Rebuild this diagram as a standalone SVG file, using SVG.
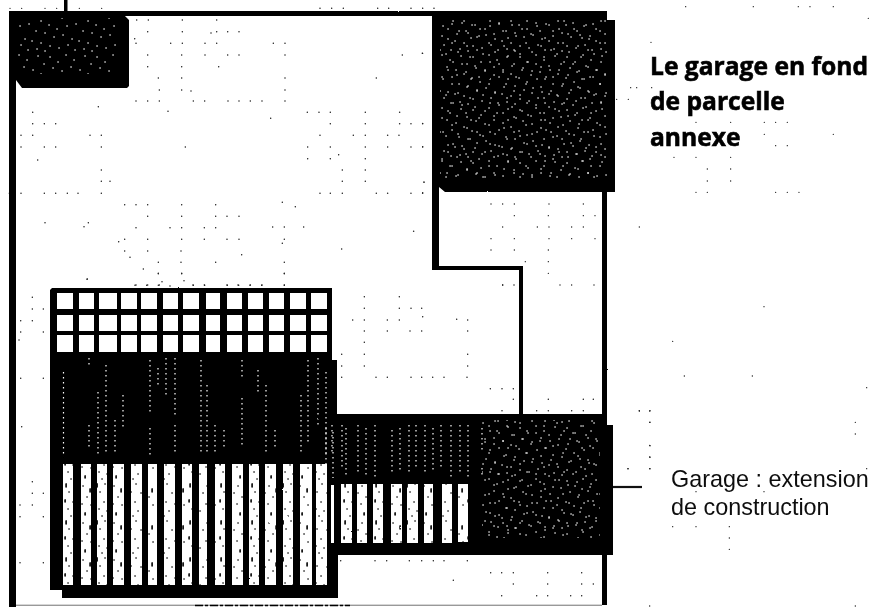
<svg xmlns="http://www.w3.org/2000/svg" width="875" height="607" viewBox="0 0 875 607">
<style>
.k{fill:#000}
.w{fill:#fff}
.s{fill:url(#speck)}
.s2{fill:url(#speck2)}
.b{fill:url(#blackspeck)}
.dots{fill:none;stroke:#222;stroke-linecap:round}
.col{fill:none;stroke:#fff;stroke-width:1.2;stroke-dasharray:1.4 3.6}
.lab{font-family:"Liberation Sans",Arial,sans-serif;font-size:23.4px;fill:#111}
.tit{font-family:"Open Sans","Noto Sans",sans-serif;font-size:24.6px;font-weight:700;fill:#000;stroke:#000;stroke-width:.6}
</style>
<defs>
<filter id="rough" x="-2%" y="-2%" width="104%" height="104%">
<feTurbulence type="fractalNoise" baseFrequency="0.45" numOctaves="1" seed="4" result="n"/>
<feDisplacementMap in="SourceGraphic" in2="n" scale="1.6" result="d"/>
<feGaussianBlur in="d" stdDeviation="0.35"/>
</filter>
<filter id="soft" x="-2%" y="-5%" width="104%" height="110%"><feGaussianBlur stdDeviation="0.45"/></filter>
<pattern id="speck" width="47" height="53" patternUnits="userSpaceOnUse">
<path d="M3 4h.1M11 9h.1M19 2h.1M27 7h.1M38 3h.1M44 11h.1M6 15h.1M15 18h.1M24 14h.1M33 17h.1M41 21h.1M2 25h.1M10 29h.1M20 26h.1M29 24h.1M36 31h.1M45 33h.1M7 37h.1M16 35h.1M25 39h.1M32 41h.1M41 43h.1M3 46h.1M12 48h.1M21 45h.1M28 50h.1M37 49h.1M45 51h.1" fill="none" stroke="#fff" stroke-width="1.5" stroke-linecap="round"/>
</pattern>
<pattern id="speck2" width="37" height="41" patternUnits="userSpaceOnUse">
<path d="M8 2h.1M23 5h.1M33 9h.1M14 11h.1M2 13h.1M26 16h.1M9 21h.1M18 23h.1M31 25h.1M4 29h.1M22 31h.1M13 34h.1M35 36h.1M27 38h.1" fill="none" stroke="#fff" stroke-width="1.5" stroke-linecap="round"/>
</pattern>
<pattern id="blackspeck" width="31" height="37" patternUnits="userSpaceOnUse">
<path d="M4 3h.1v3M21 5h.1M12 3h.1M28 8h.1v3M7 11h.1M17 12h.1M25 16h.1M3 19h.1v2M11 21h.1M20 23h.1M29 24h.1M6 28h.1M14 30h.1M23 32h.1v2M9 35h.1" fill="none" stroke="#000" stroke-width="1.6" stroke-linecap="round"/>
</pattern>
</defs>

<rect class="w" width="875" height="607"/>

<g id="background-dots">
<path class="dots" stroke-width="4.5" transform="translate(0 80) scale(.3333)" d="M478 30h.1M545 30h.1M573 33h.1M855 30h.1M408 63h.1M443 63h.1M478 63h.1M580 63h.1M614 63h.1M684 63h.1M717 63h.1M751 63h.1M786 63h.1M855 63h.1M98 97h.1M504 94h.1M922 97h.1M957 97h.1M991 97h.1M1096 97h.1M1199 97h.1M295 80h.1M98 131h.1M133 131h.1M167 131h.1M991 131h.1M1096 131h.1M1199 131h.1M1233 131h.1M1268 131h.1M812 115h.1M63 166h.1M98 166h.1M270 166h.1M304 166h.1M960 166h.1M1060 166h.1M1096 166h.1M1163 166h.1M1197 166h.1M63 201h.1M133 201h.1M167 201h.1M304 201h.1M556 201h.1M923 201h.1M991 201h.1M1096 201h.1M1163 201h.1M1233 201h.1M1268 201h.1M113 240h.1M923 236h.1M991 236h.1M1016 224h.1M1096 236h.1M304 270h.1M1027 270h.1M1096 270h.1M304 304h.1M330 304h.1M1027 304h.1M1096 304h.1M1272 306h.1M28 340h.1M63 340h.1M133 340h.1M167 340h.1M202 340h.1M234 340h.1M304 340h.1M960 340h.1M991 340h.1M1027 340h.1M1129 340h.1M1163 340h.1M1233 340h.1M1268 340h.1M374 374h.1M408 374h.1M443 374h.1M545 374h.1M647 374h.1M847 367h.1M886 380h.1M443 409h.1M545 409h.1M647 409h.1M681 409h.1M717 409h.1M408 443h.1M510 443h.1M545 443h.1M613 443h.1M647 443h.1M818 441h.1M853 441h.1M911 441h.1M252 440h.1M265 428h.1M135 428h.1M374 478h.1M443 478h.1M545 478h.1M613 478h.1M681 478h.1M717 478h.1M853 478h.1M356 485h.1M847 490h.1M1241 454h.1M374 513h.1M443 513h.1M543 513h.1M725 524h.1M1025 507h.1M475 547h.1M543 547h.1M647 547h.1M853 547h.1M390 532h.1M475 581h.1M545 581h.1M853 581h.1M430 567h.1M408 615h.1M443 615h.1M478 615h.1M579 615h.1M613 615h.1M681 615h.1M714 615h.1M751 615h.1M786 615h.1M853 615h.1M261 598h.1M486 605h.1M552 602h.1"/>
<path class="dots" stroke-width="4.5" transform="translate(120 0) scale(.3333)" d="M50 60h.1M85 60h.1M187 60h.1M290 60h.1M83 95h.1M187 95h.1M290 95h.1M323 95h.1M357 95h.1M273 99h.1M48 130h.1M152 130h.1M187 130h.1M255 130h.1M290 130h.1M460 130h.1M495 130h.1M44 116h.1M83 165h.1M185 165h.1M255 165h.1M323 165h.1M357 165h.1M495 165h.1M847 165h.1M907 160h.1M83 200h.1M185 200h.1M296 200h.1M115 234h.1M185 234h.1M495 234h.1M769 234h.1M600 25h.1M635 25h.1M670 25h.1M773 25h.1M806 25h.1M873 25h.1M908 25h.1M942 25h.1"/>
<path class="dots" stroke-width="4" transform="scale(.3333)" d="M30 25h.1M65 25h.1M135 25h.1M170 25h.1M238 25h.1M305 25h.1"/>
<path class="dots" stroke-width="4.5" transform="translate(330 270) scale(.3333)" d="M103 80h.1M208 80h.1M103 115h.1M208 115h.1M243 115h.1M275 115h.1M518 45h.1M552 45h.1M68 150h.1M103 150h.1M172 150h.1M208 150h.1M278 140h.1M380 148h.1M413 150h.1M103 183h.1M172 183h.1M240 183h.1M275 183h.1M413 183h.1M103 217h.1M35 253h.1M103 253h.1M413 253h.1M35 288h.1M103 288h.1M413 288h.1M35 322h.1M138 322h.1M172 322h.1M243 322h.1M275 322h.1M308 322h.1M342 322h.1M411 322h.1M481 356h.1M516 356h.1M550 356h.1M550 388h.1M516 422h.1"/>
<path class="dots" stroke-width="4" transform="translate(420 0) scale(.3333)" d="M797 20h.1M1000 20h.1M1135 20h.1M1170 20h.1M1240 20h.1M1345 55h.1M693 127h.1M632 263h.1M650 263h.1M695 263h.1M590 298h.1M625 298h.1M828 367h.1M932 367h.1M1033 367h.1M1067 367h.1M1102 367h.1M1033 403h.1M1240 403h.1M1067 437h.1M1102 437h.1M762 472h.1M828 472h.1M932 472h.1M862 507h.1M932 507h.1M862 543h.1M932 543h.1M828 577h.1M862 577h.1M1067 577h.1M1102 577h.1M1137 577h.1M213 612h.1M248 612h.1M283 612h.1M387 612h.1M490 612h.1M283 647h.1M385 647h.1M490 647h.1M525 647h.1M248 681h.1M352 681h.1M387 681h.1M455 681h.1M490 681h.1M658 681h.1M213 716h.1M283 716h.1M387 716h.1M455 716h.1M525 716h.1M213 750h.1M283 750h.1M385 750h.1M316 785h.1M385 785h.1M385 820h.1M248 855h.1M420 855h.1M455 855h.1M522 855h.1M8 160h.1M8 370h.1M8 440h.1M8 578h.1M12 547h.1"/>
<path class="dots" stroke-width="4" transform="translate(600 270) scale(.3333)" d="M492 110h.1M218 214h.1M253 318h.1M457 318h.1M800 353h.1M118 423h.1M149 423h.1M149 457h.1M766 457h.1M766 492h.1M149 526h.1M149 561h.1M84 596h.1M149 596h.1M800 596h.1M288 665h.1M492 665h.1M218 770h.1M288 770h.1M388 770h.1M388 804h.1M388 838h.1M149 1008h.1M766 1008h.1"/>
<path class="dots" stroke-width="4.5" transform="translate(320 390) scale(.3333)" d="M62 512h.1M165 512h.1M200 512h.1M268 512h.1M305 512h.1M340 512h.1M372 512h.1M442 512h.1M512 548h.1M545 548h.1M580 548h.1M683 548h.1M785 548h.1M400 571h.1M580 582h.1M683 582h.1M785 582h.1M820 582h.1M545 617h.1M650 617h.1M683 617h.1M752 617h.1M785 617h.1M685 28h.1M790 28h.1M820 28h.1M650 62h.1M685 62h.1M755 62h.1M790 62h.1M958 62h.1M990 62h.1M990 97h.1M990 167h.1M990 202h.1M924 236h.1M990 236h.1"/>
<path class="dots" stroke-width="4.5" transform="translate(0 270) scale(.3333)" d="M262 27h.1M475 10h.1M545 10h.1M853 10h.1M97 82h.1M97 117h.1M130 117h.1M62 152h.1M97 152h.1M62 186h.1M130 186h.1M57 210h.1M62 325h.1M130 325h.1M65 470h.1M97 635h.1M97 670h.1M130 670h.1M60 705h.1M97 705h.1M60 740h.1M130 740h.1M60 878h.1M130 878h.1M405 46h.1M440 46h.1M475 46h.1M510 48h.1M580 46h.1M614 46h.1M682 46h.1M716 46h.1M750 46h.1M785 46h.1M853 46h.1"/>
</g>

<g id="parcel" filter="url(#rough)">
<rect class="k" x="10" y="11" width="596" height="5"/>
<rect class="k" x="9" y="11" width="7" height="596"/>
<rect class="k" x="602" y="11" width="5" height="594"/>
<rect x="64" y="0" width="3.500" height="13" class="k"/>
<rect x="16" y="604.600" width="586" height="1.400" fill="#999"/>
<path d="M195 605.500H350" stroke="#000" stroke-width="1.600" stroke-dasharray="8 2 3 2" fill="none"/>
</g>

<g id="garage-annexe" filter="url(#rough)">
<path class="k" d="M432 12H606V20H615V192H445L439 187V266H523V416H519V270H432Z"/>
<rect class="s" x="440" y="19" width="167" height="160"/>
<rect class="s2" x="440" y="19" width="167" height="160"/>
</g>

<g id="block-top-left" filter="url(#rough)">
<path class="k" d="M12 13H122L129 20V86L127 88H22L16 80H10V15Z"/>
<rect class="s" x="17" y="18" width="100" height="56"/>
</g>

<g id="house" filter="url(#rough)">
<path class="k" d="M52 288H332V360H337V414H605V425H613V555H338V598H62V590H50V290Z"/>
<g class="w">
<rect x="57" y="293" width="16" height="16"/><rect x="79" y="293" width="15" height="16"/><rect x="99" y="293" width="18" height="16"/><rect x="121" y="293" width="16" height="16"/><rect x="141" y="293" width="16" height="16"/><rect x="163" y="293" width="15" height="16"/><rect x="183" y="293" width="16" height="16"/><rect x="206" y="293" width="14" height="16"/><rect x="227" y="293" width="15" height="16"/><rect x="248" y="293" width="15" height="16"/><rect x="269" y="293" width="15" height="16"/><rect x="290" y="293" width="16" height="16"/><rect x="311" y="293" width="16" height="16"/>
<rect x="57" y="315" width="16" height="16"/><rect x="79" y="315" width="15" height="16"/><rect x="99" y="315" width="18" height="16"/><rect x="121" y="315" width="16" height="16"/><rect x="141" y="315" width="16" height="16"/><rect x="163" y="315" width="15" height="16"/><rect x="183" y="315" width="16" height="16"/><rect x="206" y="315" width="14" height="16"/><rect x="227" y="315" width="15" height="16"/><rect x="248" y="315" width="15" height="16"/><rect x="269" y="315" width="15" height="16"/><rect x="290" y="315" width="16" height="16"/><rect x="311" y="315" width="16" height="16"/>
<rect x="57" y="335" width="16" height="17"/><rect x="79" y="335" width="15" height="17"/><rect x="99" y="335" width="18" height="17"/><rect x="121" y="335" width="16" height="17"/><rect x="141" y="335" width="16" height="17"/><rect x="163" y="335" width="15" height="17"/><rect x="183" y="335" width="16" height="17"/><rect x="206" y="335" width="14" height="17"/><rect x="227" y="335" width="15" height="17"/><rect x="248" y="335" width="15" height="17"/><rect x="269" y="335" width="15" height="17"/><rect x="290" y="335" width="16" height="17"/><rect x="311" y="335" width="16" height="17"/>
</g>
<path class="col" d="M63.500 372V455M89 358V365M89 425V450M98 392V455M106 365V455M115 420V455M123 395V430M150 360V415M150 428V455M158 368V385M166 358V395M175 358V415M175 425V455M201 360V455M207 385V455M215 425V455M224 430V450M242 360V378M242 398V445M258 370V395M266 385V455M275 430V450M301 395V455M308 360V445M318 358V428M326 372V455M332 425V452"/>
<path class="col" d="M326 428V470M333 432V478M342 425V470M346 428V475M358 425V472M366 428V475M375 425V480M392 430V472M400 428V472M409 425V475M416 425V470M425 425V472M433 428V472M441 425V470M451 425V478M460 425V475M468 425V478M482 428V452M482 468V478"/>
<g class="w">
<rect x="63" y="464" width="10" height="121"/><rect x="81" y="464" width="10" height="121"/><rect x="97" y="464" width="10" height="121"/><rect x="113" y="464" width="11" height="121"/><rect x="131" y="464" width="11" height="121"/><rect x="148" y="464" width="9" height="121"/><rect x="164" y="464" width="11" height="121"/><rect x="182" y="464" width="10" height="121"/><rect x="199" y="464" width="8" height="121"/><rect x="215" y="464" width="10" height="121"/><rect x="232" y="464" width="11" height="121"/><rect x="249" y="464" width="10" height="121"/><rect x="265" y="464" width="11" height="121"/><rect x="283" y="464" width="10" height="121"/><rect x="300" y="464" width="12" height="121"/><rect x="316" y="464" width="11" height="121"/>
<rect x="331" y="485" width="3" height="58"/><rect x="341" y="484" width="11" height="59"/><rect x="357" y="484" width="10" height="59"/><rect x="373" y="484" width="10" height="59"/><rect x="391" y="484" width="11" height="59"/><rect x="407" y="484" width="11" height="59"/><rect x="424" y="484" width="9" height="59"/><rect x="442" y="484" width="10" height="59"/><rect x="458" y="484" width="10" height="58"/>
</g>
<g class="b">
<rect x="63" y="464" width="10" height="121"/><rect x="81" y="464" width="10" height="121"/><rect x="97" y="464" width="10" height="121"/><rect x="113" y="464" width="11" height="121"/><rect x="131" y="464" width="11" height="121"/><rect x="148" y="464" width="9" height="121"/><rect x="164" y="464" width="11" height="121"/><rect x="182" y="464" width="10" height="121"/><rect x="199" y="464" width="8" height="121"/><rect x="215" y="464" width="10" height="121"/><rect x="232" y="464" width="11" height="121"/><rect x="249" y="464" width="10" height="121"/><rect x="265" y="464" width="11" height="121"/><rect x="283" y="464" width="10" height="121"/><rect x="300" y="464" width="12" height="121"/><rect x="316" y="464" width="11" height="121"/>
<rect x="341" y="484" width="11" height="59"/><rect x="357" y="484" width="10" height="59"/><rect x="373" y="484" width="10" height="59"/><rect x="391" y="484" width="11" height="59"/><rect x="407" y="484" width="11" height="59"/><rect x="424" y="484" width="9" height="59"/><rect x="442" y="484" width="10" height="59"/><rect x="458" y="484" width="10" height="58"/>
</g>
<rect class="s" x="482" y="420" width="118" height="118"/>
<rect class="s2" x="482" y="420" width="118" height="118"/>
</g>

<g id="connectors">
<path d="M613 487H642" stroke="#111" stroke-width="2.200" fill="none"/>
</g>

<g id="label-annexe" filter="url(#soft)">
<text class="tit" x="650" y="75">Le garage en fond</text>
<text class="tit" x="650" y="110">de parcelle</text>
<text class="tit" x="650" y="146">annexe</text>
</g>
<g id="label-extension" filter="url(#soft)">
<text class="lab" x="671" y="487">Garage : extension</text>
<text class="lab" x="671" y="515">de construction</text>
</g>
</svg>
